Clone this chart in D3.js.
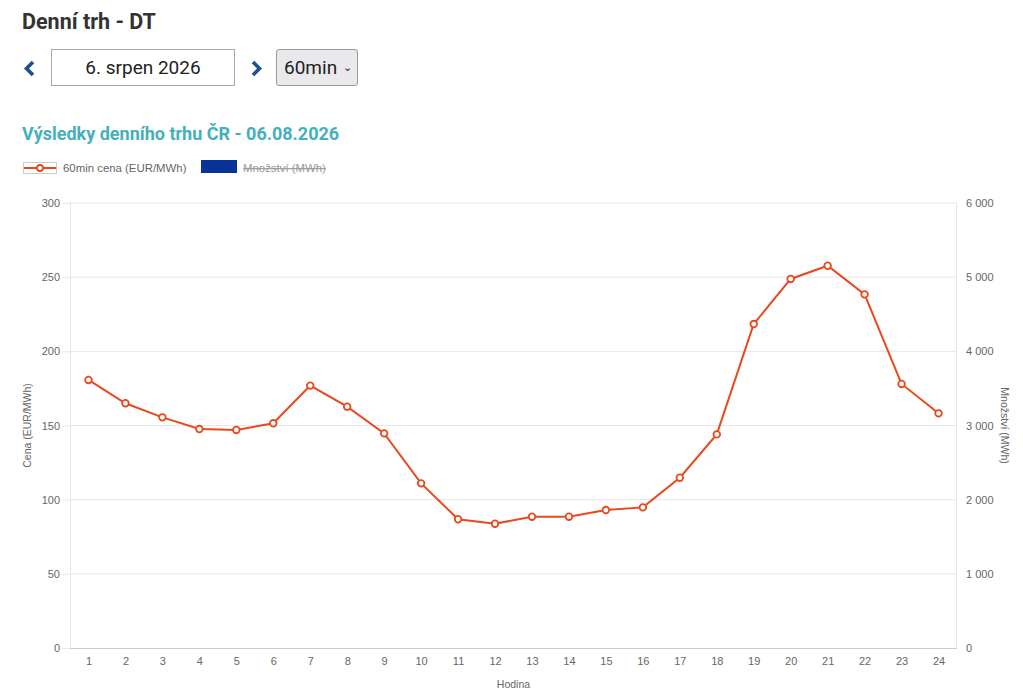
<!DOCTYPE html>
<html>
<head>
<meta charset="utf-8">
<script src="https://cdn.jsdelivr.net/npm/d3@7"></script>
<style>
  body { margin: 0; background: #fff; font-family: Roboto, "Liberation Sans", sans-serif; }
  #page { position: relative; width: 1023px; height: 700px; overflow: hidden; }
  h1 { position: absolute; left: 22px; top: 9px; margin: 0; font-size: 21.5px; font-weight: 700; color: #333; }
  #datebox { position: absolute; left: 51px; top: 49px; width: 182px; height: 35px; border: 1px solid #aaa;
             font-size: 19px; color: #222; text-align: center; line-height: 35px; box-sizing: content-box; }
  #select { position: absolute; left: 276px; top: 49px; width: 82px; height: 37px; border: 1px solid #999;
            border-radius: 3px; background: #e9e9ed; font-size: 19px; color: #222; line-height: 35px; box-sizing: border-box;
            padding-left: 7px; }
  #select small { font-size: 11px; margin-left: 6px; position: relative; top: -3px; }
  h2 { position: absolute; left: 22px; top: 123px; margin: 0; font-size: 18px; font-weight: 700; color: #45afbb; }
  #chart { position: absolute; left: 0; top: 0; }
  #chart text { font-family: "Liberation Sans", Arial, sans-serif; }
</style>
</head>
<body>
<div id="page">
  <svg id="chart" width="1023" height="700"></svg>
  <h1>Denní trh - DT</h1>
  <div id="datebox">6. srpen 2026</div>
  <div id="select">60min<small>&#8964;</small></div>
  <h2>Výsledky denního trhu ČR - 06.08.2026</h2>
</div>
<script>
// hours of the day (x categories)
const HOURS = d3.range(1, 25);
// 60min price, EUR/MWh
const PRICE = [180.7, 165, 155.5, 147.6, 147, 151.5, 176.9, 162.7, 144.7, 111, 86.8, 83.8,
               88.5, 88.5, 93, 94.8, 114.8, 144, 218.4, 248.8, 257.7, 238.4, 178, 158.2];
const PRICE_TICKS = [0, 50, 100, 150, 200, 250, 300];
const QTY_TICKS = [0, 1000, 2000, 3000, 4000, 5000, 6000];

const LINE_COLOR = "#e8491d";
const QTY_COLOR = "#0a3399";

const PLOT = {left: 70, right: 957, top: 203, bottom: 648};

const svg = d3.select("#chart");

// prev / next day chevrons
svg.append("path").attr("d", "M33,62L26.5,68.5L33,75")
    .attr("fill", "none").attr("stroke", "#1d4f91").attr("stroke-width", 3.6);
svg.append("path").attr("d", "M253,62L259.5,68.5L253,75")
    .attr("fill", "none").attr("stroke", "#1d4f91").attr("stroke-width", 3.6);

const x = d3.scalePoint().domain(HOURS).range([PLOT.left, PLOT.right]).padding(0.5);
const y = d3.scaleLinear().domain([0, 300]).range([PLOT.bottom, PLOT.top]);
const y2 = d3.scaleLinear().domain([0, 6000]).range([PLOT.bottom, PLOT.top]);

// gridlines
svg.append("g").selectAll("line").data(PRICE_TICKS.slice(1)).join("line")
    .attr("x1", PLOT.left).attr("x2", PLOT.right)
    .attr("y1", d => y(d)).attr("y2", d => y(d))
    .attr("stroke", "#e6e6e6");
svg.append("line").attr("x1", PLOT.left + 0.5).attr("x2", PLOT.left + 0.5)
    .attr("y1", PLOT.top).attr("y2", PLOT.bottom).attr("stroke", "#e6e6e6");
svg.append("line").attr("x1", PLOT.right - 0.5).attr("x2", PLOT.right - 0.5)
    .attr("y1", PLOT.top).attr("y2", PLOT.bottom).attr("stroke", "#e6e6e6");

// left axis
const yAxis = svg.append("g").attr("transform", `translate(${PLOT.left},0)`)
    .call(d3.axisLeft(y).tickValues(PRICE_TICKS).tickSize(8).tickPadding(2));
yAxis.select(".domain").remove();
yAxis.selectAll("line").attr("stroke", "#e6e6e6");
yAxis.selectAll("text").attr("fill", "#666").attr("font-size", 11);

// right axis (quantity, no data shown)
const fmtQty = v => v === 0 ? "0" : d3.format(",")(v).replace(/,/g, " ");
const y2Axis = svg.append("g").attr("transform", `translate(${PLOT.right},0)`)
    .call(d3.axisRight(y2).tickValues(QTY_TICKS).tickSize(0).tickPadding(9).tickFormat(fmtQty));
y2Axis.select(".domain").remove();
y2Axis.selectAll("text").attr("fill", "#666").attr("font-size", 11);

// bottom axis
const xAxis = svg.append("g").attr("transform", `translate(0,${PLOT.bottom})`)
    .call(d3.axisBottom(x).tickSize(0).tickPadding(9));
xAxis.select(".domain").attr("stroke", "#ccc").attr("d", `M${PLOT.left},0.5H${PLOT.right}`);
xAxis.selectAll("text").attr("fill", "#666").attr("font-size", 11);

// axis titles
svg.append("text").attr("transform", `translate(31,${(PLOT.top + PLOT.bottom) / 2}) rotate(-90)`)
    .attr("text-anchor", "middle").attr("fill", "#666").attr("font-size", 10.5)
    .text("Cena (EUR/MWh)");
svg.append("text").attr("transform", `translate(1001,${(PLOT.top + PLOT.bottom) / 2}) rotate(90)`)
    .attr("text-anchor", "middle").attr("fill", "#666").attr("font-size", 10.5)
    .text("Množství (MWh)");
svg.append("text").attr("x", (PLOT.left + PLOT.right) / 2).attr("y", 688)
    .attr("text-anchor", "middle").attr("fill", "#666").attr("font-size", 10.5)
    .text("Hodina");

// price line
const line = d3.line().x((d, i) => x(HOURS[i])).y(d => y(d));
svg.append("path").datum(PRICE).attr("d", line)
    .attr("fill", "none").attr("stroke", LINE_COLOR).attr("stroke-width", 2);
svg.append("g").selectAll("circle").data(PRICE).join("circle")
    .attr("cx", (d, i) => x(HOURS[i])).attr("cy", d => y(d)).attr("r", 3.3)
    .attr("fill", "#fff").attr("stroke", LINE_COLOR).attr("stroke-width", 1.8);

// legend
const lg = svg.append("g").attr("transform", "translate(0,168)");
lg.append("rect").attr("x", 23.5).attr("y", -5.5).attr("width", 33).attr("height", 11)
    .attr("fill", "#fff").attr("stroke", "#ccc");
lg.append("line").attr("x1", 24).attr("x2", 56).attr("y1", 0).attr("y2", 0)
    .attr("stroke", LINE_COLOR).attr("stroke-width", 2);
lg.append("circle").attr("cx", 40).attr("cy", 0).attr("r", 3)
    .attr("fill", "#fff").attr("stroke", LINE_COLOR).attr("stroke-width", 1.8);
lg.append("text").attr("x", 63).attr("y", 4).attr("fill", "#666").attr("font-size", 11.4)
    .text("60min cena (EUR/MWh)");
lg.append("rect").attr("x", 201).attr("y", -8).attr("width", 36).attr("height", 13).attr("fill", QTY_COLOR);
lg.append("text").attr("x", 243).attr("y", 4).attr("fill", "#999").attr("font-size", 11.4)
    .attr("text-decoration", "line-through").text("Množství (MWh)");
</script>
</body>
</html>
